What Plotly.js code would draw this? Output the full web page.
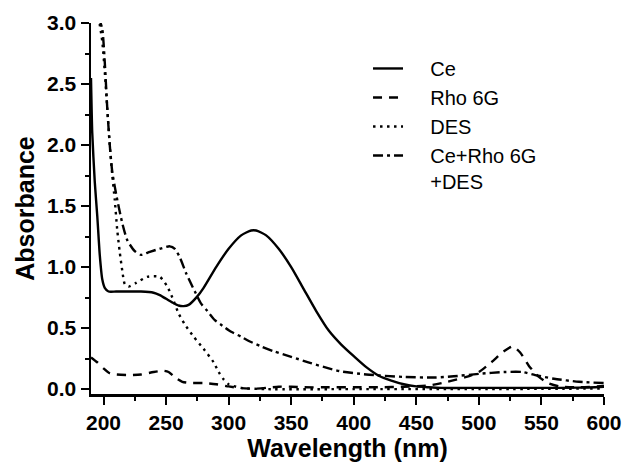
<!DOCTYPE html>
<html>
<head>
<meta charset="utf-8">
<script src="https://cdn.plot.ly/plotly-3.0.1.min.js"></script>
<style>html,body{margin:0;padding:0;background:#fff;}#chart{width:624px;height:463px;}</style>
</head>
<body>
<div id="chart"></div>
<script>
// Wavelength (nm) / absorbance
const ceWl  = [190,191,193,195,197,199,201,204,210,220,230,240,245,250,255,260,264,268,275,280,290,300,310,318,322,330,340,350,360,370,380,390,400,410,420,430,440,450,460,470,500,550,580,600];
const ceAbs = [2.55,2.1,1.7,1.42,1.1,0.9,0.83,0.80,0.80,0.80,0.80,0.79,0.77,0.74,0.71,0.685,0.68,0.69,0.76,0.83,1.0,1.15,1.26,1.30,1.30,1.26,1.15,1.00,0.82,0.64,0.48,0.365,0.27,0.18,0.11,0.07,0.04,0.022,0.015,0.01,0.01,0.01,0.012,0.02];

const rhoWl  = [190,195,200,205,210,220,230,240,248,252,258,263,270,280,290,300,310,320,330,340,350,360,380,400,420,440,460,475,490,500,510,520,527,533,540,548,555,565,580,600];
const rhoAbs = [0.26,0.22,0.17,0.13,0.12,0.115,0.12,0.14,0.15,0.14,0.09,0.06,0.05,0.05,0.04,0.022,0.008,0.003,0.01,0.02,0.02,0.015,0.015,0.015,0.015,0.02,0.03,0.06,0.10,0.14,0.22,0.31,0.35,0.30,0.19,0.10,0.05,0.02,0.015,0.025];

const desWl  = [196,199,201,203,205,207,209,211,213,215,217,220,226,235,245,251,255,260,265,272,280,288,292,296,300,310,330,400,500,600];
const desAbs = [3.05,2.85,2.6,2.3,2.0,1.75,1.55,1.3,1.12,0.97,0.86,0.84,0.87,0.92,0.92,0.84,0.75,0.62,0.53,0.43,0.33,0.22,0.14,0.08,0.04,0.01,0.0,0.0,0.0,0.005];

const mixWl  = [196,199,201,203,205,207,211,215,219,225,230,237,245,253,257,261,266,273,278,283,289,295,302,310,315,326,336,350,365,380,390,410,440,465,480,500,520,535,545,560,580,600];
const mixAbs = [3.05,2.95,2.68,2.3,2.0,1.78,1.55,1.36,1.22,1.13,1.10,1.125,1.15,1.17,1.15,1.08,0.95,0.80,0.70,0.64,0.565,0.52,0.47,0.43,0.40,0.35,0.31,0.265,0.215,0.17,0.145,0.12,0.10,0.095,0.105,0.125,0.14,0.14,0.115,0.085,0.06,0.05];

const seriesNames = ["Ce", "Rho 6G", "DES", "Ce+Rho 6G<br>+DES"];

const pad = "\u00a0\u00a0\u00a0\u00a0";
const lineW = 2.4;
const dashes = ["solid", "9px,7px", "2.5px,4.5px", "10px,4px,3px,4px"];
const xs = [ceWl, rhoWl, desWl, mixWl];
const ys = [ceAbs, rhoAbs, desAbs, mixAbs];

const traces = seriesNames.map((n, i) => ({
  type: "scatter", mode: "lines",
  x: xs[i], y: ys[i],
  name: n.split("<br>").map(s => pad + s).join("<br>"),
  line: {color: "#000", width: lineW, dash: dashes[i], shape: "spline", smoothing: 0.6}
}));

const tickFont = {family: "Liberation Sans, Arial, sans-serif", size: 21, color: "#000", weight: "bold"};
const titleFont = {family: "Liberation Sans, Arial, sans-serif", size: 25, color: "#000", weight: "bold"};

const layout = {
  width: 624, height: 463,
  margin: {l: 91, r: 20, t: 23, b: 69},
  paper_bgcolor: "#fff", plot_bgcolor: "#fff",
  showlegend: true,
  legend: {
    x: 0.54, y: 0.93, xanchor: "left", yanchor: "top",
    bgcolor: "rgba(0,0,0,0)", borderwidth: 0,
    font: {family: "Liberation Sans, Arial, sans-serif", size: 20, color: "#000"},
    valign: "top", itemwidth: 30, tracegroupgap: 0
  },
  xaxis: {
    range: [190, 600], tick0: 200, dtick: 50,
    showgrid: false, zeroline: false,
    showline: true, linecolor: "#000", linewidth: 2.5,
    ticks: "outside", ticklen: 8, tickwidth: 2, tickcolor: "#000",
    minor: {dtick: 25, tick0: 200, ticks: "outside", ticklen: 4, tickwidth: 2, tickcolor: "#000"},
    tickfont: tickFont,
    title: {text: "Wavelength (nm)", font: titleFont, standoff: 4}
  },
  yaxis: {
    range: [-0.04, 3.0], tick0: 0, dtick: 0.5, tickformat: ".1f",
    showgrid: false, zeroline: false,
    showline: true, linecolor: "#000", linewidth: 2.5,
    ticks: "outside", ticklen: 8, tickwidth: 2, tickcolor: "#000",
    minor: {dtick: 0.25, tick0: 0, ticks: "outside", ticklen: 4, tickwidth: 2, tickcolor: "#000"},
    tickfont: tickFont,
    title: {text: "Absorbance", font: titleFont, standoff: 6}
  }
};

Plotly.newPlot("chart", traces, layout, {displayModeBar: false, staticPlot: true});
</script>
</body>
</html>
